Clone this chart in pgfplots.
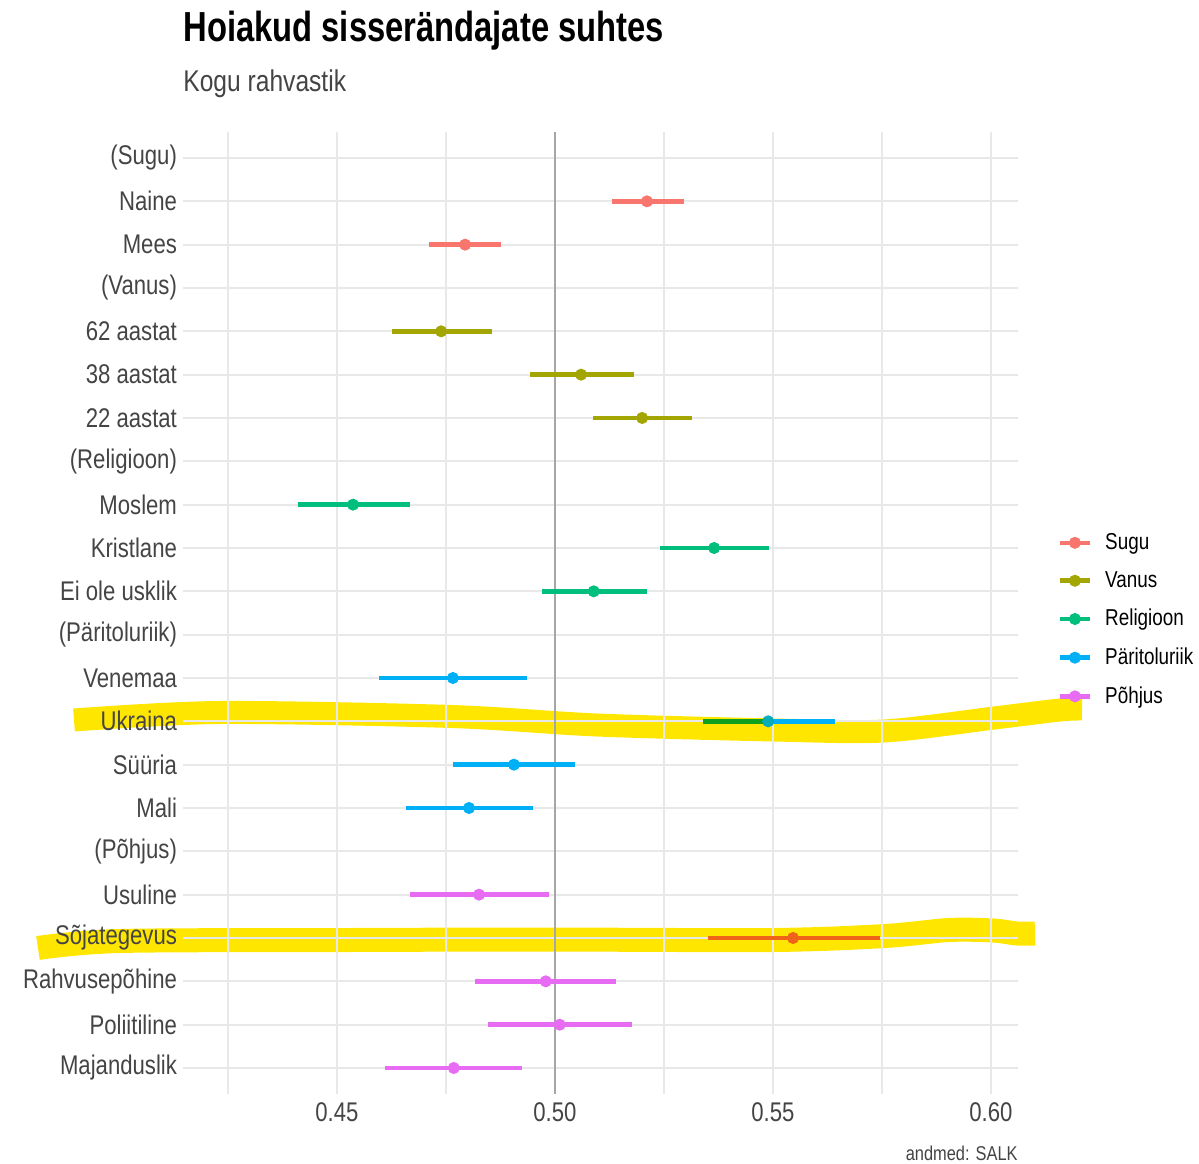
\documentclass[border=0pt]{standalone}
\usepackage{fontspec}
\setmainfont{Liberation Sans}[FakeStretch=0.82]
\newfontfamily\titlefont{Liberation Sans}[FakeStretch=0.78]
\usepackage{pgfplots}
\pgfplotsset{compat=1.18}
\definecolor{csugu}{HTML}{F8766D}
\definecolor{cvanus}{HTML}{A3A500}
\definecolor{crel}{HTML}{00BF7D}
\definecolor{cpar}{HTML}{00B0F6}
\definecolor{cpoh}{HTML}{E76BF3}
\definecolor{csoj}{HTML}{EE6418}
\definecolor{cukrg}{HTML}{10A020}
\definecolor{hl}{HTML}{FFE600}
\definecolor{txt}{HTML}{444444}
\pgfplotstableread{
x y em ep
0.5211 20 0.0080 0.0085
0.4794 19 0.0083 0.0082
}\sugu
\pgfplotstableread{
x y em ep
0.4739 17 0.0113 0.0117
0.5060 16 0.0117 0.0121
0.5200 15 0.0113 0.0114
}\vanus
\pgfplotstableread{
x y em ep
0.4537 13 0.0126 0.0130
0.5365 12 0.0124 0.0126
0.5089 11 0.0119 0.0122
}\religioon
\pgfplotstableread{
x y em ep
0.4766 9 0.0170 0.0170
0.4906 7 0.0140 0.0140
0.4803 6 0.0145 0.0147
}\paritolu
\pgfplotstableread{
x y em ep
0.4826 4 0.0159 0.0160
0.4979 2 0.0162 0.0161
0.5011 1 0.0165 0.0166
0.4768 0 0.0158 0.0156
}\pohjus
\pgfplotstableread{
x y em ep
0.5546 3 0.0195 0.0199
}\sojategevus
\begin{document}
\begin{tikzpicture}
\useasboundingbox (-91.5pt,-34.5pt) rectangle (508pt,547pt);
% highlighter strokes
\draw[hl, line width=11.5pt, line cap=butt, line join=round] plot[smooth, tension=0.5] coordinates {(-54.5pt,187pt) (18pt,190.75pt) (134pt,188.75pt) (207pt,184.5pt) (295.5pt,182pt) (350.5pt,181.5pt) (405.5pt,188pt) (438.5pt,192pt) (449.5pt,192.5pt)};
\draw[hl, line width=12pt, line cap=butt, line join=round] plot[smooth, tension=0.5] coordinates {(-72.5pt,73pt) (-31.5pt,76.5pt) (85pt,77pt) (178.5pt,77.25pt) (295pt,77pt) (351pt,79pt) (383pt,82pt) (405pt,81.75pt) (417pt,80.25pt) (426pt,80.25pt)};
\begin{axis}[
  at={(0pt,0pt)}, anchor=south west,
  scale only axis, width=417.5pt, height=481pt,
  xmin=0.4147, xmax=0.6062, ymin=-0.6, ymax=21.6,
  xtick={0.45,0.5,0.55,0.6}, minor xtick={0.425,0.475,0.525,0.575},
  xticklabels={0.45,0.50,0.55,0.60},
  ytick={0,...,21},
  yticklabels={Majanduslik,Poliitiline,Rahvusepõhine,Sõjategevus,Usuline,(Põhjus),Mali,Süüria,Ukraina,Venemaa,(Päritoluriik),Ei ole usklik,Kristlane,Moslem,(Religioon),22 aastat,38 aastat,62 aastat,(Vanus),Mees,Naine,(Sugu)},
  grid=both,
  major grid style={color=black!9, line width=0.9pt},
  minor grid style={color=black!9, line width=0.6pt},
  axis line style={draw=none},
  major tick length=0pt, minor tick length=0pt,
  tick style={draw=none},
  /pgf/number format/assume math mode=true,
  xticklabel style={font=\fontsize{13.5}{15}\selectfont, text=txt, yshift=-1pt},
  yticklabel style={font=\fontsize{13.5}{15}\selectfont, text=txt, xshift=0.5pt},
  clip=false,
  legend style={at={(1.047,0.493)}, anchor=west, draw=none, fill=none,
    font=\fontsize{11.5}{13}\selectfont, row sep=5.5pt, column sep=4.5pt, inner sep=0pt,
    cells={anchor=west}},
  legend cell align=left,
]
\addplot[black!35, line width=0.8pt, forget plot] coordinates {(0.5,-0.6) (0.5,21.6)};
\pgfplotsset{eb/.style={only marks, mark=*, mark size=2.8pt, color=#1, mark options={fill=#1, draw=#1},
  error bars/.cd, x dir=both, x explicit, error mark=none, error bar style={line width=2.3pt, color=#1}, /pgfplots/.cd}}
\addplot[forget plot, eb=csugu] table[x=x, y=y, x error plus=ep, x error minus=em] {\sugu};
\addplot[forget plot, eb=cvanus] table[x=x, y=y, x error plus=ep, x error minus=em] {\vanus};
\addplot[forget plot, eb=crel] table[x=x, y=y, x error plus=ep, x error minus=em] {\religioon};
\addplot[forget plot, eb=cpar] table[x=x, y=y, x error plus=ep, x error minus=em] {\paritolu};
\addplot[forget plot, eb=cpoh] table[x=x, y=y, x error plus=ep, x error minus=em] {\pohjus};
\addplot[forget plot, eb=csoj] table[x=x, y=y, x error plus=ep, x error minus=em] {\sojategevus};
% Ukraina (partly recoloured by the highlighter)
\addplot[cukrg, line width=2.3pt, forget plot] coordinates {(0.5339,8) (0.5489,8)};
\addplot[cpar, line width=2.3pt, forget plot] coordinates {(0.5489,8) (0.5642,8)};
\addplot[only marks, mark=*, mark size=2.8pt, mark options={fill=cpar!70!cukrg, draw=cpar!70!cukrg}, forget plot] coordinates {(0.5489,8)};
% legend
\pgfplotsset{legend image code/.code={\draw[line width=2.3pt] (0pt,0pt) -- (15pt,0pt); \fill (7.5pt,0pt) circle (2.8pt);}}
\addlegendimage{csugu}\addlegendentry{Sugu}
\addlegendimage{cvanus}\addlegendentry{Vanus}
\addlegendimage{crel}\addlegendentry{Religioon}
\addlegendimage{cpar}\addlegendentry{Päritoluriik}
\addlegendimage{cpoh}\addlegendentry{Põhjus}
\end{axis}
\node[anchor=base west, inner sep=0pt, font=\titlefont\fontsize{21}{25}\selectfont\bfseries] at (0pt,526pt) {Hoiakud sisserändajate suhtes};
\node[anchor=base west, inner sep=0pt, font=\fontsize{15}{18}\selectfont, text=txt] at (0pt,501pt) {Kogu rahvastik};
\node[anchor=base east, inner sep=0pt, font=\fontsize{10}{12}\selectfont, text=txt] at (417.5pt,-33pt) {andmed: SALK};
\end{tikzpicture}
\end{document}
